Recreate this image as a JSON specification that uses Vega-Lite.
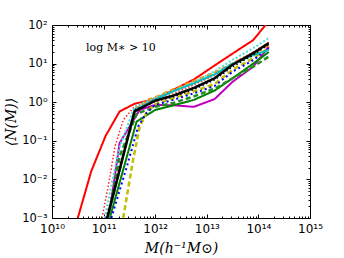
{
  "$schema": "https://vega.github.io/schema/vega-lite/v6.json",
  "width": 258,
  "height": 193,
  "autosize": {"type": "none"},
  "padding": {"left": 52, "top": 25, "right": 34, "bottom": 40},
  "background": "white",
  "config": {
    "view": {"stroke": "black", "strokeWidth": 1},
    "axis": {"domain": false, "grid": false, "tickColor": "black", "tickWidth": 1, "labelColor": "black", "labelFont": "DejaVu Sans", "labelFontSize": 12, "titleColor": "black", "labelFlush": false, "labelOverlap": false}
  },
  "datasets": {
    "curves": [
      {"s": "red", "m": 3.162e10, "n": 0.001},
      {"s": "red", "m": 5.754e10, "n": 0.0162},
      {"s": "red", "m": 1.096e11, "n": 0.135},
      {"s": "red", "m": 2.042e11, "n": 0.575},
      {"s": "red", "m": 3.981e11, "n": 0.912},
      {"s": "red", "m": 1e12, "n": 1.202},
      {"s": "red", "m": 2.239e12, "n": 2.089},
      {"s": "red", "m": 5.623e12, "n": 3.89},
      {"s": "red", "m": 1.413e13, "n": 8.913},
      {"s": "red", "m": 3.162e13, "n": 18.2},
      {"s": "red", "m": 7.943e13, "n": 40.74},
      {"s": "red", "m": 1.585e14, "n": 125.9},
      {"s": "reddot", "m": 9.333e10, "n": 0.001},
      {"s": "reddot", "m": 1.259e11, "n": 0.00794},
      {"s": "reddot", "m": 1.66e11, "n": 0.0708},
      {"s": "reddot", "m": 2.399e11, "n": 0.347},
      {"s": "reddot", "m": 3.981e11, "n": 0.776},
      {"s": "reddot", "m": 1e12, "n": 1.122},
      {"s": "reddot", "m": 2.239e12, "n": 1.66},
      {"s": "reddot", "m": 5.623e12, "n": 2.818},
      {"s": "reddot", "m": 1.413e13, "n": 5.012},
      {"s": "reddot", "m": 3.162e13, "n": 10},
      {"s": "reddot", "m": 7.943e13, "n": 19.95},
      {"s": "reddot", "m": 1.585e14, "n": 35.48},
      {"s": "magenta", "m": 1.259e11, "n": 0.001},
      {"s": "magenta", "m": 2.042e11, "n": 0.0871},
      {"s": "magenta", "m": 5.012e11, "n": 0.631},
      {"s": "magenta", "m": 1e12, "n": 0.851},
      {"s": "magenta", "m": 2.239e12, "n": 0.832},
      {"s": "magenta", "m": 5.623e12, "n": 0.759},
      {"s": "magenta", "m": 1.413e13, "n": 1.202},
      {"s": "magenta", "m": 3.162e13, "n": 3.388},
      {"s": "magenta", "m": 7.943e13, "n": 8.318},
      {"s": "magenta", "m": 1.585e14, "n": 27.54},
      {"s": "green", "m": 1.318e11, "n": 0.001},
      {"s": "green", "m": 4.365e11, "n": 0.316},
      {"s": "green", "m": 1e12, "n": 0.631},
      {"s": "green", "m": 2.239e12, "n": 0.832},
      {"s": "green", "m": 5.623e12, "n": 1.148},
      {"s": "green", "m": 1.413e13, "n": 1.995},
      {"s": "green", "m": 3.162e13, "n": 4.169},
      {"s": "green", "m": 7.943e13, "n": 10},
      {"s": "green", "m": 1.585e14, "n": 19.95},
      {"s": "gdash", "m": 1.23e11, "n": 0.001},
      {"s": "gdash", "m": 2.042e11, "n": 0.0398},
      {"s": "gdash", "m": 4.365e11, "n": 0.501},
      {"s": "gdash", "m": 1e12, "n": 0.759},
      {"s": "gdash", "m": 2.239e12, "n": 0.955},
      {"s": "gdash", "m": 5.623e12, "n": 1.413},
      {"s": "gdash", "m": 1.413e13, "n": 2.239},
      {"s": "gdash", "m": 3.162e13, "n": 4.169},
      {"s": "gdash", "m": 7.943e13, "n": 8.318},
      {"s": "gdash", "m": 1.585e14, "n": 15.14},
      {"s": "yellow", "m": 2.399e11, "n": 0.001},
      {"s": "yellow", "m": 3.715e11, "n": 0.0316},
      {"s": "yellow", "m": 5.012e11, "n": 0.234},
      {"s": "yellow", "m": 6.761e11, "n": 0.525},
      {"s": "yellow", "m": 1e12, "n": 0.891},
      {"s": "yellow", "m": 2.239e12, "n": 1.259},
      {"s": "yellow", "m": 5.623e12, "n": 1.905},
      {"s": "yellow", "m": 1.413e13, "n": 2.951},
      {"s": "yellow", "m": 3.162e13, "n": 6.918},
      {"s": "yellow", "m": 7.943e13, "n": 13.8},
      {"s": "yellow", "m": 1.585e14, "n": 25.12},
      {"s": "blue", "m": 1.413e11, "n": 0.001},
      {"s": "blue", "m": 2.951e11, "n": 0.0263},
      {"s": "blue", "m": 4.677e11, "n": 0.234},
      {"s": "blue", "m": 6.761e11, "n": 0.525},
      {"s": "blue", "m": 1e12, "n": 0.851},
      {"s": "blue", "m": 2.239e12, "n": 1.148},
      {"s": "blue", "m": 5.623e12, "n": 1.698},
      {"s": "blue", "m": 1.413e13, "n": 2.63},
      {"s": "blue", "m": 3.162e13, "n": 6.166},
      {"s": "blue", "m": 7.943e13, "n": 12.3},
      {"s": "blue", "m": 1.585e14, "n": 25.12},
      {"s": "orange", "m": 1.202e11, "n": 0.001},
      {"s": "orange", "m": 3.981e11, "n": 0.631},
      {"s": "orange", "m": 7.079e11, "n": 1.148},
      {"s": "orange", "m": 1e12, "n": 1.318},
      {"s": "orange", "m": 2.239e12, "n": 2.138},
      {"s": "orange", "m": 5.623e12, "n": 3.548},
      {"s": "orange", "m": 1.413e13, "n": 5.754},
      {"s": "orange", "m": 3.162e13, "n": 10},
      {"s": "orange", "m": 7.943e13, "n": 18.62},
      {"s": "orange", "m": 1.585e14, "n": 30.2},
      {"s": "cyandot", "m": 1.047e11, "n": 0.001},
      {"s": "cyandot", "m": 1.995e11, "n": 0.0631},
      {"s": "cyandot", "m": 3.981e11, "n": 0.759},
      {"s": "cyandot", "m": 1e12, "n": 1.318},
      {"s": "cyandot", "m": 2.239e12, "n": 1.995},
      {"s": "cyandot", "m": 5.623e12, "n": 3.311},
      {"s": "cyandot", "m": 1.413e13, "n": 6.31},
      {"s": "cyandot", "m": 3.162e13, "n": 12.59},
      {"s": "cyandot", "m": 7.943e13, "n": 25.12},
      {"s": "cyandot", "m": 1.585e14, "n": 45.71},
      {"s": "cyan", "m": 1.202e11, "n": 0.001},
      {"s": "cyan", "m": 3.981e11, "n": 0.631},
      {"s": "cyan", "m": 1e12, "n": 1.175},
      {"s": "cyan", "m": 2.239e12, "n": 1.905},
      {"s": "cyan", "m": 5.623e12, "n": 3.09},
      {"s": "cyan", "m": 1.413e13, "n": 5.248},
      {"s": "cyan", "m": 3.162e13, "n": 10},
      {"s": "cyan", "m": 7.943e13, "n": 16.6},
      {"s": "cyan", "m": 1.585e14, "n": 22.39},
      {"s": "blackdot", "m": 1.122e11, "n": 0.001},
      {"s": "blackdot", "m": 3.981e11, "n": 0.631},
      {"s": "blackdot", "m": 1e12, "n": 1.047},
      {"s": "blackdot", "m": 2.239e12, "n": 1.38},
      {"s": "blackdot", "m": 5.623e12, "n": 2.138},
      {"s": "blackdot", "m": 1.413e13, "n": 3.802},
      {"s": "blackdot", "m": 3.162e13, "n": 8.318},
      {"s": "blackdot", "m": 7.943e13, "n": 16.6},
      {"s": "blackdot", "m": 1.585e14, "n": 31.62},
      {"s": "black", "m": 1.175e11, "n": 0.001},
      {"s": "black", "m": 3.981e11, "n": 0.575},
      {"s": "black", "m": 1e12, "n": 1.096},
      {"s": "black", "m": 2.239e12, "n": 1.479},
      {"s": "black", "m": 5.623e12, "n": 2.344},
      {"s": "black", "m": 1.413e13, "n": 4.169},
      {"s": "black", "m": 3.162e13, "n": 9.333},
      {"s": "black", "m": 7.943e13, "n": 18.62},
      {"s": "black", "m": 1.585e14, "n": 33.88}
    ],
    "note": [{"x": 4.57e10, "y": 25.1, "label": "log M∗ > 10"}]
  },
  "resolve": {"axis": {"x": "independent", "y": "independent"}},
  "layer": [
    {
      "data": {"name": "curves"},
      "mark": {"type": "line", "clip": true, "strokeCap": "butt", "strokeJoin": "round"},
      "encoding": {
        "x": {"field": "m", "type": "quantitative",
          "scale": {"type": "log", "domain": [1e10, 1e15]},
          "axis": {"orient": "bottom", "values": [1e10, 1e11, 1e12, 1e13, 1e14, 1e15],
            "labelExpr": "'10' + ['¹⁰','¹¹','¹²','¹³','¹⁴','¹⁵'][round(log(datum.value)/LN10)-10]",
            "tickSize": -4, "labelPadding": 9,
            "title": "M(h⁻¹M⊙)", "titleFont": "DejaVu Serif", "titleFontStyle": "italic", "titleFontWeight": "normal", "titleFontSize": 14, "titlePadding": 7}},
        "y": {"field": "n", "type": "quantitative",
          "scale": {"type": "log", "domain": [0.001, 100]},
          "axis": {"orient": "left", "values": [0.001, 0.01, 0.1, 1, 10, 100],
            "labelExpr": "'10' + ['⁻³','⁻²','⁻¹','⁰','¹','²'][round(log(datum.value)/LN10)+3]",
            "tickSize": -4, "labelPadding": 9, "labelFontSize": 11.5,
            "title": "⟨N(M)⟩", "titleFont": "DejaVu Serif", "titleFontStyle": "italic", "titleFontWeight": "normal", "titleFontSize": 14, "titlePadding": 3}},
        "color": {"field": "s", "type": "nominal", "legend": null,
          "scale": {"domain": ["red", "reddot", "magenta", "green", "gdash", "yellow", "blue", "orange", "cyandot", "cyan", "blackdot", "black"],
            "range": ["#ff0000", "#ff2020", "#bf00bf", "#008000", "#1f8f1f", "#bfbf00", "#0000ff", "#ff8c00", "#50dcdc", "#00bfbf", "#000000", "#000000"]}},
        "strokeDash": {"field": "s", "type": "nominal", "legend": null,
          "scale": {"domain": ["red", "reddot", "magenta", "green", "gdash", "yellow", "blue", "orange", "cyandot", "cyan", "blackdot", "black"],
            "range": [[1, 0], [1.5, 2], [1, 0], [1, 0], [5, 3], [5, 3], [2, 3], [5, 3], [2, 2], [1, 0], [1.5, 2.5], [1, 0]]}},
        "strokeWidth": {"field": "s", "type": "nominal", "legend": null,
          "scale": {"type": "ordinal", "domain": ["red", "reddot", "magenta", "green", "gdash", "yellow", "blue", "orange", "cyandot", "cyan", "blackdot", "black"],
            "range": [2, 1.5, 2, 2, 2.5, 2.5, 2, 2.5, 2, 2, 1.5, 2.5]}}
      }
    },
    {
      "data": {"name": "note"},
      "mark": {"type": "text", "align": "left", "baseline": "middle", "font": "DejaVu Serif", "fontSize": 11, "color": "black"},
      "encoding": {
        "text": {"field": "label"},
        "x": {"field": "x", "type": "quantitative", "scale": {"type": "log", "domain": [1e10, 1e15]},
          "axis": {"orient": "bottom", "labels": false, "title": null, "tickSize": -2,
            "values": [2e10,3e10,4e10,5e10,6e10,7e10,8e10,9e10,2e11,3e11,4e11,5e11,6e11,7e11,8e11,9e11,2e12,3e12,4e12,5e12,6e12,7e12,8e12,9e12,2e13,3e13,4e13,5e13,6e13,7e13,8e13,9e13,2e14,3e14,4e14,5e14,6e14,7e14,8e14,9e14]}},
        "y": {"field": "y", "type": "quantitative", "scale": {"type": "log", "domain": [0.001, 100]},
          "axis": {"orient": "left", "labels": false, "title": null, "tickSize": -2,
            "values": [0.002,0.003,0.004,0.005,0.006,0.007,0.008,0.009,0.02,0.03,0.04,0.05,0.06,0.07,0.08,0.09,0.2,0.3,0.4,0.5,0.6,0.7,0.8,0.9,2,3,4,5,6,7,8,9,20,30,40,50,60,70,80,90]}}
      }
    },
    {
      "data": {"name": "note"},
      "mark": {"type": "point", "opacity": 0},
      "encoding": {
        "x": {"field": "x", "type": "quantitative", "scale": {"type": "log", "domain": [1e10, 1e15]},
          "axis": {"orient": "top", "labels": false, "title": null, "tickSize": -4, "values": [1e10, 1e11, 1e12, 1e13, 1e14, 1e15]}},
        "y": {"field": "y", "type": "quantitative", "scale": {"type": "log", "domain": [0.001, 100]},
          "axis": {"orient": "right", "labels": false, "title": null, "tickSize": -4, "values": [0.001, 0.01, 0.1, 1, 10, 100]}}
      }
    },
    {
      "data": {"name": "note"},
      "mark": {"type": "point", "opacity": 0},
      "encoding": {
        "x": {"field": "x", "type": "quantitative", "scale": {"type": "log", "domain": [1e10, 1e15]},
          "axis": {"orient": "top", "labels": false, "title": null, "tickSize": -2,
            "values": [2e10,3e10,4e10,5e10,6e10,7e10,8e10,9e10,2e11,3e11,4e11,5e11,6e11,7e11,8e11,9e11,2e12,3e12,4e12,5e12,6e12,7e12,8e12,9e12,2e13,3e13,4e13,5e13,6e13,7e13,8e13,9e13,2e14,3e14,4e14,5e14,6e14,7e14,8e14,9e14]}},
        "y": {"field": "y", "type": "quantitative", "scale": {"type": "log", "domain": [0.001, 100]},
          "axis": {"orient": "right", "labels": false, "title": null, "tickSize": -2,
            "values": [0.002,0.003,0.004,0.005,0.006,0.007,0.008,0.009,0.02,0.03,0.04,0.05,0.06,0.07,0.08,0.09,0.2,0.3,0.4,0.5,0.6,0.7,0.8,0.9,2,3,4,5,6,7,8,9,20,30,40,50,60,70,80,90]}}
      }
    }
  ]
}
